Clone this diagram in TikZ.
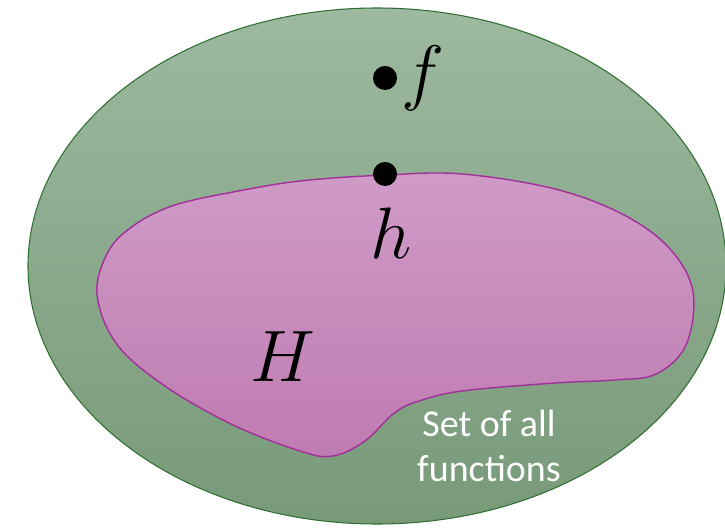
\documentclass[tikz,border=0pt]{standalone}
\usepackage{fontspec}
\usepackage{tikz}
\usetikzlibrary{positioning}
\newfontfamily\labelfont{Carlito}
\definecolor{setgreentop}{HTML}{9DB99F}
\definecolor{setgreenbot}{HTML}{789A79}
\definecolor{setgreenline}{HTML}{2E7031}
\definecolor{hyppurpletop}{HTML}{CF9BC7}
\definecolor{hyppurplebot}{HTML}{BF7BB1}
\definecolor{hyppurpleline}{HTML}{A2309A}

\begin{document}
\begin{tikzpicture}[x=0.01cm, y=-0.01cm,
        fnpoint/.style={circle, fill=black, inner sep=0pt, minimum size=0.24cm},
        mathlabel/.style={font=\fontsize{21}{25}\selectfont, inner sep=0pt}]
    \useasboundingbox (0,0) rectangle (725,528);
    % set of all functions
    \draw[setgreenline, line width=0.3pt, top color=setgreentop, bottom color=setgreenbot]
        (377,266) ellipse [x radius=349, y radius=258];
    % hypothesis set
    \draw[hyppurpleline, line width=0.4pt, top color=hyppurpletop, bottom color=hyppurplebot]
        plot[smooth cycle, tension=0.6] coordinates {
            (386,175) (462,174) (555,189) (624,215) (670,249) (693,292)
            (686,345) (656,374) (615,380) (555,383) (462,391) (416,402)
            (393,414) (365,441) (333,456) (300,451) (231,424) (162,384)
            (116,343) (97,294) (108,252) (133,226) (172,206) (228,193) (300,181)};
    \node[fnpoint] (f) at (385,78) {};
    \node[fnpoint] (h) at (385,174) {};
    \node[mathlabel, right=0.03cm of f] (flabel) {$f$};
    \node[mathlabel] (hlabel) at (391,233) {$h$};
    \node[mathlabel] (Hlabel) at (283,357) {$H$};
    \node[font=\labelfont\fontsize{10.8}{12.6}\selectfont, text=white, align=center, inner sep=0pt]
        (alllabel) at (489,446) {Set of all\\functions};
\end{tikzpicture}
\end{document}
